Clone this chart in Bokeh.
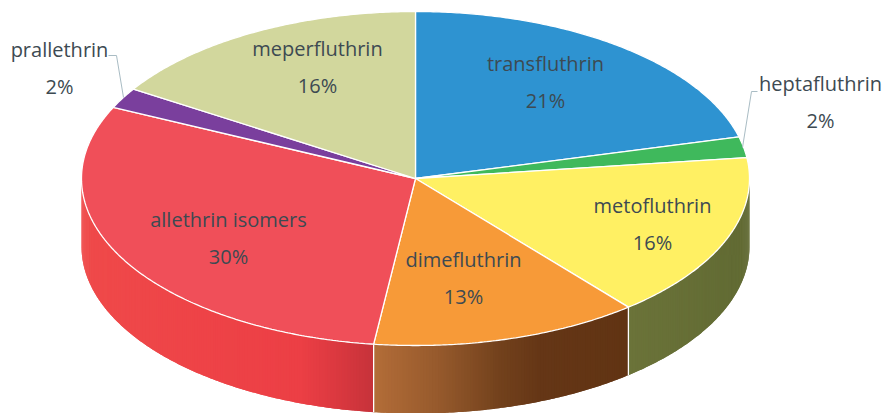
import numpy as np
from bokeh.plotting import figure
from bokeh.models import ColumnDataSource, Range1d
from bokeh.core.properties import value
from bokeh.embed import file_html
from bokeh.resources import INLINE

# --- data ---
categories = ["transfluthrin", "heptafluthrin", "metofluthrin", "dimefluthrin",
              "allethrin isomers", "prallethrin", "meperfluthrin"]
shares = [21, 2, 16, 13, 30, 2, 16]
top_colors = ["#2e93d1", "#3fb95c", "#fff063", "#f79a38", "#f04f59", "#7a3f9d", "#d2d79d"]

# --- layout of the pie, in page pixels ---
CX, CY, RX, RY, DEPTH = 415.0, 178.0, 334.0, 167.0, 68.0
label_x = [545, 820, 652, 463, 228, 59, 317]
label_y = [62.5, 82.5, 204.5, 258.5, 218.5, 48.5, 47.5]
PCT_GAP = 37
TEXT = "#3d4a52"
LEADER = "#a9bcc4"

# wall shading (by page x) for the three front walls
wall_stops = {
    "metofluthrin": ([628, 749], ["#6b7339", "#616a33"]),
    "dimefluthrin": ([373, 440, 500, 540, 628], ["#b36d38", "#95592c", "#72411c", "#653616", "#613413"]),
    "allethrin isomers": ([81, 200, 300, 340, 373], ["#ef4a4a", "#ee4347", "#ec3f45", "#d9383f", "#c6323a"]),
}


def ex(t):
    return CX + RX * np.sin(t)


def ey(t):
    return CY - RY * np.cos(t)


def hex_rgb(h):
    return [int(h[i:i + 2], 16) for i in (1, 3, 5)]


def shade(stops, x):
    xs, cols = stops
    rgb = np.array([hex_rgb(c) for c in cols], dtype=float)
    return "#%02x%02x%02x" % tuple(int(round(np.interp(x, xs, rgb[:, k]))) for k in range(3))


p = figure(width=884, height=413, x_range=Range1d(0, 884), y_range=Range1d(413, 0),
           output_backend="svg", toolbar_location=None, min_border=0,
           background_fill_color="white", border_fill_color="white", outline_line_color=None)
p.axis.visible = False
p.grid.visible = False

edges = np.cumsum([0] + shares) / sum(shares) * 2 * np.pi

# walls: each strip reaches one step into the next so no seams show
sx, sy, sc = [], [], []
rim_x, rim_y = [], []
for i, name in enumerate(categories):
    a0, a1 = max(edges[i], np.pi / 2), min(edges[i + 1], 3 * np.pi / 2)
    if a1 <= a0:
        continue
    n = max(2, int((a1 - a0) / np.radians(0.5)))
    t = np.linspace(a0, a1, n + 1)
    for j in range(n):
        arc = t[j:min(j + 3, n + 1)]
        xs = ex(arc)
        ys = ey(arc)
        sx.append(np.r_[xs, xs[::-1]])
        sy.append(np.r_[ys, ys[::-1] + DEPTH])
        sc.append(shade(wall_stops[name], (ex(t[j]) + ex(t[j + 1])) / 2))
    rim_x.append([ex(a0), ex(a0)])
    rim_y.append([ey(a0), ey(a0) + DEPTH])
p.patches(sx, sy, fill_color=sc, line_color=None)
p.multi_line(rim_x[1:], rim_y[1:], line_color="white", line_width=1.3)

# top face
wx, wy = [], []
for i in range(len(shares)):
    t = np.linspace(edges[i], edges[i + 1], max(3, int(np.degrees(edges[i + 1] - edges[i])) * 2))
    wx.append(np.r_[CX, ex(t)])
    wy.append(np.r_[CY, ey(t)])
p.patches(wx, wy, fill_color=top_colors, line_color="white", line_width=1.3)

# leaders
p.line([108, 116, 123], [55, 55, 97], line_color=LEADER, line_width=1)
p.line([757, 751, 742], [91, 91, 147], line_color=LEADER, line_width=1)

# labels
names = ColumnDataSource(dict(x=label_x, y=label_y, t=categories))
pcts = ColumnDataSource(dict(x=label_x, y=[v + PCT_GAP for v in label_y], t=[f"{s}%" for s in shares]))
for src in (names, pcts):
    p.text("x", "y", text="t", source=src, text_font=value("Open Sans"), text_font_size="20px",
           text_color=TEXT, text_align="center", text_baseline="middle")

open("out.html", "w").write(file_html(p, INLINE))
